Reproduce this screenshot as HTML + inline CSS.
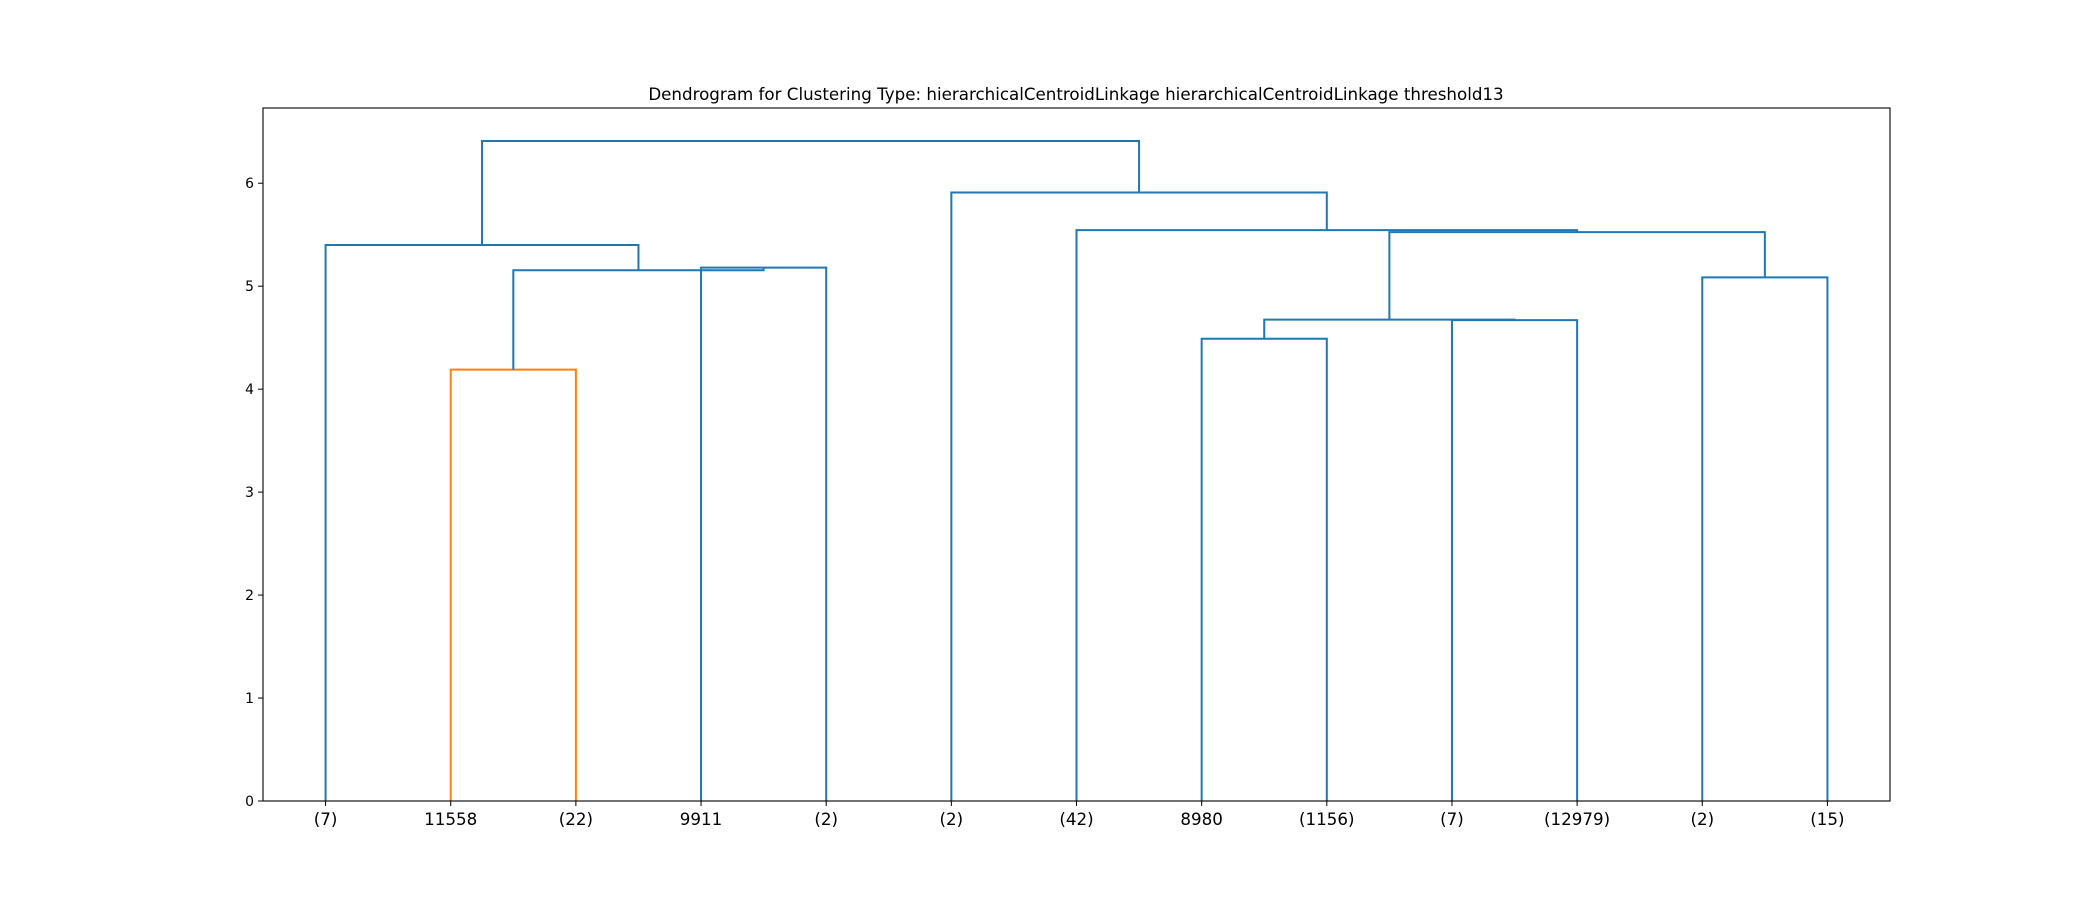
<!DOCTYPE html>
<html><head><meta charset="utf-8"><style>
html,body{margin:0;padding:0;background:#fff;}
svg{display:block;font-family:"DejaVu Sans","Liberation Sans",sans-serif;}
</style></head><body>
<svg id="chart" width="2100" height="900" viewBox="0 0 2100 900">
<rect width="2100" height="900" fill="#fff"/>
<text x="1076" y="100" text-anchor="middle" font-size="16.7" fill="#000">Dendrogram for Clustering Type: hierarchicalCentroidLinkage hierarchicalCentroidLinkage threshold13</text>
<g id="marks"></g>
<g id="axes"></g>
<rect x="263" y="108" width="1627" height="693" fill="none" stroke="#000" stroke-width="1.1"/>
</svg>
<script>
const leafLabels = ["(7)","11558","(22)","9911","(2)","(2)","(42)","8980","(1156)","(7)","(12979)","(2)","(15)"];
const yTicks = [0,1,2,3,4,5,6];
// links: left child x, right child x (data units), merge height, child bottoms
const linkLeftX   = [15, 35, 20, 5, 75, 95, 80, 115, 90, 65, 55, 17.5];
const linkRightX  = [25, 45, 40, 30, 85, 105, 100, 125, 120, 105, 85, 70];
const linkHeight  = [4.19, 5.18, 5.155, 5.40, 4.49, 4.67, 4.675, 5.085, 5.525, 5.545, 5.91, 6.41];
const linkLeftBot = [0, 0, 4.19, 0, 0, 0, 4.49, 0, 4.675, 0, 0, 5.40];
const linkRightBot= [0, 0, 5.18, 5.155, 0, 0, 4.67, 0, 5.085, 5.525, 5.545, 5.91];
const linkColor   = ["#ff7f0e","#1f77b4","#1f77b4","#1f77b4","#1f77b4","#1f77b4","#1f77b4","#1f77b4","#1f77b4","#1f77b4","#1f77b4","#1f77b4"];

const X0=263, X1=1890, Y0=801, Y1=108, xMax=130, yMax=6.7305;
const sx = v => X0 + v/xMax*(X1-X0);
const sy = v => Y0 - v/yMax*(Y0-Y1);
const NS="http://www.w3.org/2000/svg";
const marks=document.getElementById('marks'), axes=document.getElementById('axes');

for(let i=0;i<linkHeight.length;i++){
  const p=document.createElementNS(NS,'path');
  p.setAttribute('d',`M${sx(linkLeftX[i])},${sy(linkLeftBot[i])}V${sy(linkHeight[i])}H${sx(linkRightX[i])}V${sy(linkRightBot[i])}`);
  p.setAttribute('fill','none');p.setAttribute('stroke',linkColor[i]);p.setAttribute('stroke-width','2');
  
  
  marks.appendChild(p);
}
yTicks.forEach(t=>{
  const y=sy(t);
  const l=document.createElementNS(NS,'line');
  l.setAttribute('x1',X0-5);l.setAttribute('x2',X0);l.setAttribute('y1',y);l.setAttribute('y2',y);l.setAttribute('stroke','#000');
  
  
  axes.appendChild(l);
  const tx=document.createElementNS(NS,'text');
  tx.setAttribute('x',X0-9);tx.setAttribute('y',y+5);tx.setAttribute('text-anchor','end');tx.setAttribute('font-size','13.9');
  tx.textContent=t;
  
  
  axes.appendChild(tx);
});
leafLabels.forEach((lab,i)=>{
  const x=sx(5+10*i);
  const l=document.createElementNS(NS,'line');
  l.setAttribute('x1',x);l.setAttribute('x2',x);l.setAttribute('y1',Y0);l.setAttribute('y2',Y0+5);l.setAttribute('stroke','#000');
  
  
  axes.appendChild(l);
  const tx=document.createElementNS(NS,'text');
  tx.setAttribute('x',x);tx.setAttribute('y',Y0+24);tx.setAttribute('text-anchor','middle');tx.setAttribute('font-size','16.7');
  tx.textContent=lab;
  
  
  axes.appendChild(tx);
});
</script>
</body></html>
